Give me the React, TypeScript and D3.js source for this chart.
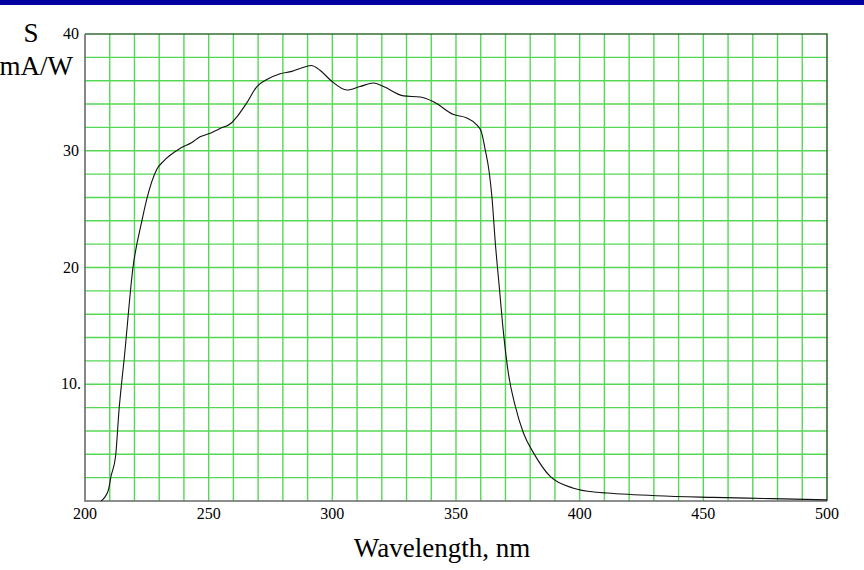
import { useEffect, useRef } from 'react';
import * as d3 from 'd3';

// Spectral response curve
const wavelengths = [
  206.5, 209.4, 210.5, 212.4, 213.8, 214.8, 215.8, 219.4, 222.9, 224.9, 229, 231.7,
  238.4, 243.2, 246.5, 250, 254.6, 259.3, 261.4, 265.4, 269.5, 273.5, 278.9, 283.6,
  287, 291.5, 295, 299.5, 305.9, 311.2, 316.6, 320.7, 328.8, 335.5, 340.9, 349,
  354.4, 358.5, 360.3, 361.8, 363.4, 364.5, 365.9, 367.6, 369.2, 371.2, 374, 377.3,
  381.4, 388.1, 397.5, 407, 411, 431, 454, 478, 500,
];
const responsivity = [
  0, 0.9, 2.1, 3.9, 7.9, 10.1, 12.1, 20, 23.9, 25.8, 28.4, 29.1,
  30.2, 30.7, 31.2, 31.45, 31.9, 32.4, 32.9, 34.1, 35.5, 36.1, 36.6, 36.8,
  37.05, 37.3, 36.9, 36.0, 35.2, 35.5, 35.8, 35.5, 34.7, 34.6, 34.2, 33.1,
  32.8, 32.2, 31.6, 30.1, 28.2, 26.1, 22.1, 18.1, 14.4, 10.9, 8.1, 5.8,
  4.1, 2.1, 1.1, 0.75, 0.68, 0.45, 0.31, 0.2, 0.1,
];

const xTicks = [200, 250, 300, 350, 400, 450, 500];
const yTicks = [10, 20, 30, 40];
const yTickLabels = ['10.', '20', '30', '40'];

const App = () => {
  const svgRef = useRef<SVGSVGElement>(null);

  useEffect(() => {
    const svg = d3.select(svgRef.current);
    svg.selectAll('*').remove();

    const width = 864;
    const height = 570;
    const margin = { left: 85, right: 37, top: 34, bottom: 69 };

    const x = d3.scaleLinear().domain([200, 500]).range([margin.left, width - margin.right]);
    const y = d3.scaleLinear().domain([0, 40]).range([height - margin.bottom, margin.top]);

    svg.append('rect').attr('width', width).attr('height', height).attr('fill', '#fff');
    // blue strip at the top
    svg.append('rect').attr('width', width).attr('height', 5).attr('fill', '#0000a0');

    // green grid: every 10 nm and every 2 mA/W
    const grid = svg.append('g').attr('stroke', '#55d855').attr('stroke-width', 1.4);
    grid.selectAll('line.v')
      .data(d3.range(210, 500, 10))
      .join('line')
      .attr('x1', d => x(d)).attr('x2', d => x(d))
      .attr('y1', y(0)).attr('y2', y(40));
    grid.selectAll('line.h')
      .data(d3.range(2, 40, 2))
      .join('line')
      .attr('x1', x(200)).attr('x2', x(500))
      .attr('y1', d => y(d)).attr('y2', d => y(d));

    // frame
    svg.append('path')
      .attr('d', `M${x(200)},${y(40)}H${x(500)}V${y(0)}`)
      .attr('fill', 'none').attr('stroke', '#356d35').attr('stroke-width', 1.6);
    svg.append('path')
      .attr('d', `M${x(200)},${y(40)}V${y(0)}H${x(500)}`)
      .attr('fill', 'none').attr('stroke', '#6a6a6a').attr('stroke-width', 1.6);

    // curve
    const pts = wavelengths.map((w, i) => [w, responsivity[i]] as [number, number]);
    const line = d3.line<[number, number]>()
      .x(d => x(d[0]))
      .y(d => y(d[1]))
      .curve(d3.curveMonotoneX);
    svg.append('path')
      .datum(pts)
      .attr('d', line)
      .attr('fill', 'none')
      .attr('stroke', '#111')
      .attr('stroke-width', 1.1);

    const font = '"Liberation Serif", "Times New Roman", serif';

    // tick labels
    svg.append('g')
      .selectAll('text')
      .data(xTicks)
      .join('text')
      .attr('x', d => x(d))
      .attr('y', y(0) + 18)
      .attr('text-anchor', 'middle')
      .style('font', `16px ${font}`)
      .text(d => d);
    svg.append('g')
      .selectAll('text')
      .data(yTicks)
      .join('text')
      .attr('x', (d, i) => (yTickLabels[i].endsWith('.') ? 81 : 79))
      .attr('y', d => y(d) + 5)
      .attr('text-anchor', 'end')
      .style('font', `16px ${font}`)
      .text((d, i) => yTickLabels[i]);

    // axis titles
    svg.append('text')
      .attr('x', 31).attr('y', 42)
      .attr('text-anchor', 'middle')
      .style('font', `27px ${font}`)
      .text('S');
    svg.append('text')
      .attr('x', 73).attr('y', 75)
      .attr('text-anchor', 'end')
      .style('font', `27px ${font}`)
      .text('mA/W');
    svg.append('text')
      .attr('x', 442).attr('y', 557)
      .attr('text-anchor', 'middle')
      .style('font', `27px ${font}`)
      .text('Wavelength, nm');
  }, []);

  return (
    <svg
      ref={svgRef}
      width={864}
      height={570}
      style={{ position: 'absolute', left: 0, top: 0, display: 'block' }}
    />
  );
};

export default App;
